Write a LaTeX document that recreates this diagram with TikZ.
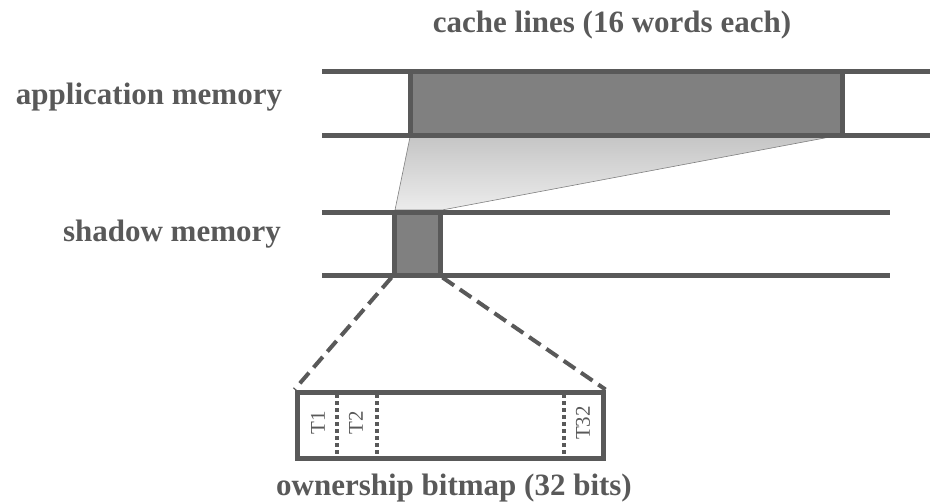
\documentclass[tikz,border=0pt]{standalone}
\usepackage{fontspec}
\setmainfont{Liberation Serif}
\usetikzlibrary{calc}
\definecolor{ink}{HTML}{595959}
\definecolor{blockfill}{HTML}{808080}
\tikzset{
  memline/.style={draw=ink, line width=5pt},
  block/.style={draw=ink, fill=blockfill, line width=5pt},
  label/.style={text=ink, font=\bfseries\fontsize{31}{36}\selectfont, anchor=base, inner sep=0pt},
  zoomline/.style={draw=ink, line width=4pt, dash pattern=on 14pt off 7pt},
  slot/.style={draw=ink, line width=4.5pt, dash pattern=on 4pt off 3pt},
  tlabel/.style={text=ink, font=\fontsize{21}{24}\selectfont, rotate=90, inner sep=0pt},
}
\begin{document}
\begin{tikzpicture}[x=1pt,y=-1pt]
\useasboundingbox (0,0) rectangle (930,503);
% application memory
\draw[memline] (322,72) -- (930,72);
\draw[memline] (322,135) -- (930,135);
% projection from cache line to shadow
\shade[top color=gray!45, bottom color=gray!15, draw=gray, line width=0.6pt]
  (410,137) -- (830,137) -- (442,210) -- (395,210) -- cycle;
\node[block, minimum width=432pt, minimum height=63pt, inner sep=0pt] (line) at (626,103.5) {};
% shadow memory
\draw[memline] (322,212) -- (890,212);
\draw[memline] (322,275) -- (890,275);
\node[block, minimum width=46pt, minimum height=63pt, inner sep=0pt] (shadow) at (417,243.5) {};
% ownership bitmap
\node[draw=ink, line width=5pt, minimum width=306pt, minimum height=66pt, inner sep=0pt] (bitmap) at (450,425) {};
\draw[zoomline] (shadow.south west) -- (bitmap.north west);
\draw[zoomline] (shadow.south east) -- (bitmap.north east);
\draw[slot] (337,394) -- (337,458);
\draw[slot] (377,394) -- (377,458);
\draw[slot] (564,394) -- (564,458);
\node[tlabel] (t1) at (318,423) {T1};
\node[tlabel] (t2) at (356,423) {T2};
\node[tlabel] (t32) at (583,423) {T32};
% labels
\node[label] (lines) at (612,33) {cache lines (16 words each)};
\node[label] (app) at (149,104) {application memory};
\node[label] (shd) at (172,241) {shadow memory};
\node[label] (bm) at (454,495) {ownership bitmap (32 bits)};
\end{tikzpicture}
\end{document}
